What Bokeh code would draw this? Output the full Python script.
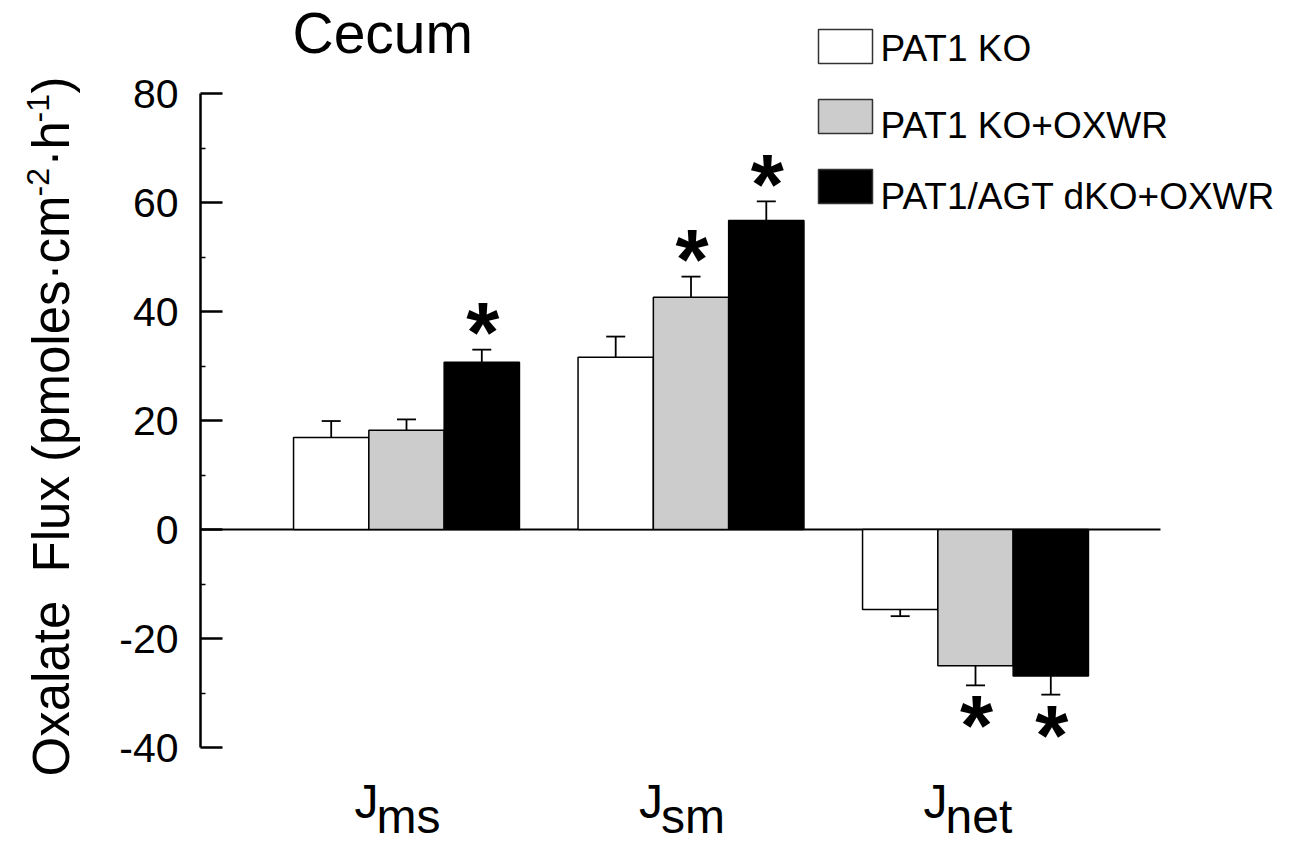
import math
from bokeh.plotting import figure
from bokeh.models import Range1d, LinearAxis, FixedTicker
from bokeh.core.properties import value
from bokeh.embed import file_html
from bokeh.resources import INLINE

# ---------------- data ----------------
groups = ["ms", "sm", "net"]            # subscripts of J
series = ["PAT1 KO", "PAT1 KO+OXWR", "PAT1/AGT dKO+OXWR"]
ko = [16.9, 31.6, -14.7]
ko_err = [3.0, 3.8, 1.2]
kox = [18.2, 42.6, -25.0]
kox_err = [2.0, 3.8, 3.6]
dko = [30.7, 56.7, -26.9]
dko_err = [2.3, 3.5, 3.4]
sig_ko = [False, False, False]
sig_kox = [False, True, True]
sig_dko = [True, True, True]
y_ticks = [-40, -20, 0, 20, 40, 60, 80]
y_minor = [-30, -10, 10, 30, 50, 70]
title_text = "Cecum"
ylabel_main = "Oxalate\u00a0 Flux (pmoles\u00b7cm"
ylabel_parts = ["-2", "\u00b7h", "-1", ")"]

# ---------------- layout ----------------
W, H = 1298, 842
G0_PX, GSTEP_PX = 406.0, 284.5      # pixel position of group 1 and spacing
Y80_PX, PX_PER_UNIT = 93.0, 5.45
FONT = value("Liberation Sans")
BASE_SHIFT = 0.40                    # em offset of rendered baseline vs anchor

def px2x(px):
    return 1 + (px - G0_PX) / GSTEP_PX

def px2y(py):
    return 80 - (py - Y80_PX) / PX_PER_UNIT

p = figure(width=W, height=H, output_backend="svg", toolbar_location=None,
           x_range=Range1d(px2x(0), px2x(W)), y_range=Range1d(px2y(H), px2y(0)),
           x_axis_location=None, y_axis_location=None,
           min_border=0, min_border_left=0, min_border_right=0,
           min_border_top=0, min_border_bottom=0)
p.outline_line_color = None
p.grid.visible = False
p.background_fill_color = "white"
p.border_fill_color = "white"

axis_x = px2x(200)
yaxis = LinearAxis(fixed_location=axis_x, bounds=(-40, 80),
                   ticker=FixedTicker(ticks=y_ticks, minor_ticks=y_minor))
yaxis.axis_line_width = 2.5
yaxis.major_tick_line_width = 2.5
yaxis.minor_tick_line_width = 1.5
yaxis.major_tick_in = 22
yaxis.major_tick_out = 0
yaxis.minor_tick_in = 5
yaxis.minor_tick_out = 0
yaxis.major_label_standoff = 22
yaxis.major_label_text_font = "Liberation Sans"
yaxis.major_label_text_font_size = "41px"
yaxis.major_label_text_color = "black"
yaxis.major_label_overrides = {t: str(t) for t in y_ticks}
p.add_layout(yaxis, "left")

# zero line
p.segment(x0=[axis_x], y0=[0], x1=[px2x(1160)], y1=[0], line_color="black", line_width=2)

bw = 75.3 / GSTEP_PX
cap = 19 / GSTEP_PX
colors = ["white", "#cccccc", "black"]
vals = [ko, kox, dko]
errs = [ko_err, kox_err, dko_err]
sigs = [sig_ko, sig_kox, sig_dko]

for si in range(3):
    xs = [g + 1 + (si - 1) * bw for g in range(len(groups))]
    v = vals[si]
    e = errs[si]
    ends = [vv + (ee if vv >= 0 else -ee) for vv, ee in zip(v, e)]
    p.segment(x0=xs, y0=v, x1=xs, y1=ends, line_color="black", line_width=1.8)
    p.segment(x0=[x - cap / 2 for x in xs], y0=ends, x1=[x + cap / 2 for x in xs], y1=ends,
              line_color="black", line_width=1.8)
    p.vbar(x=xs, width=bw, top=v, bottom=0, fill_color=colors[si],
           line_color="black", line_width=1.5)
    # asterisks
    sx, sy = [], []
    for x, vv, en, s in zip(xs, v, ends, sigs[si]):
        if s:
            centre = en + 5.1 if vv >= 0 else en - 5.4
            sx.append(x + 1 / GSTEP_PX)
            sy.append(centre - 11 / PX_PER_UNIT)
    if sx:
        p.text(x=sx, y=sy, text=["*"] * len(sx), text_font=FONT, text_font_style="bold",
               text_font_size="85px", text_align="center", text_baseline="alphabetic",
               text_color="black")

def base_y(py, size):
    return px2y(py - BASE_SHIFT * size)

# category labels J_sub
jx = [g + 1 - 28 / GSTEP_PX for g in range(len(groups))]
p.text(x=jx, y=[base_y(820, 48)] * 3, text=["J"] * 3, text_font=FONT, text_font_size="48px",
       text_align="right", text_baseline="alphabetic", text_color="black")
p.text(x=[x - 2 / GSTEP_PX for x in jx], y=[base_y(835, 48)] * 3, text=groups, text_font=FONT,
       text_font_size="48px", text_align="left", text_baseline="alphabetic", text_color="black")

# title
p.text(x=[px2x(292)], y=[base_y(55, 57)], text=[title_text], text_font=FONT, text_font_size="57px",
       text_align="left", text_baseline="alphabetic", text_color="black")

# legend
box_tops = [29, 99, 169]
box_h = 34
text_base = [63, 140, 211]
for i, lab in enumerate(series):
    p.quad(left=[px2x(818)], right=[px2x(872)], top=[px2y(box_tops[i])],
           bottom=[px2y(box_tops[i] + box_h)], fill_color=colors[i],
           line_color="#333333", line_width=1.5)
    p.text(x=[px2x(880)], y=[base_y(text_base[i], 37)], text=[lab], text_font=FONT,
           text_font_size="37px", text_align="left", text_baseline="alphabetic",
           text_color="black")

# y axis label (rotated) with superscripts
ang = math.pi / 2

def base_x(px, size):
    return px2x(px - BASE_SHIFT * size)

p.text(x=[base_x(71, 51)], y=[px2y(776)], text=[ylabel_main], angle=ang, text_font=FONT,
       text_font_size="51px", text_align="left", text_baseline="alphabetic", text_color="black")
sup_pos = [(50, 196), (71, 166), (50, 122), (71, 93)]
sup_size = [32, 51, 32, 51]
for (bx, by), t, fs in zip(sup_pos, ylabel_parts, sup_size):
    p.text(x=[base_x(bx, fs)], y=[px2y(by)], text=[t], angle=ang, text_font=FONT,
           text_font_size=f"{fs}px", text_align="left", text_baseline="alphabetic",
           text_color="black")

open("out.html", "w").write(file_html(p, INLINE))
